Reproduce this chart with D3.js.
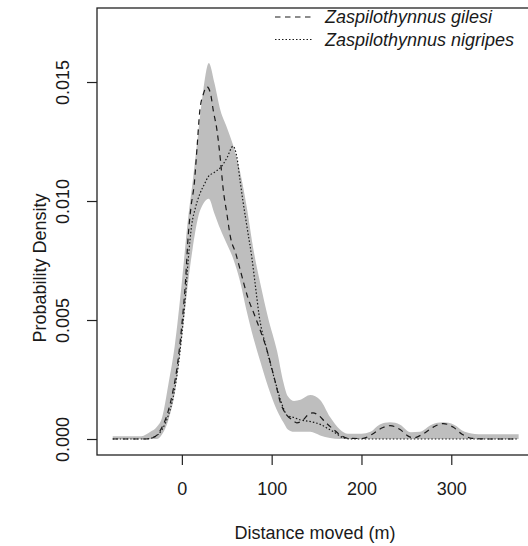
<!DOCTYPE html>
<html>
<head>
<meta charset="utf-8">
<script src="https://cdn.jsdelivr.net/npm/d3@7"></script>
<style>
  body { margin: 0; background: #fff; }
  text { font-family: "Liberation Sans", Arial, sans-serif; fill: #1a1a1a; }
</style>
</head>
<body>
<script>
// density curves (x in metres, y = density)

const gilesiX = [-77, -40, -30, -22, -15, -10, -5, 0, 4, 7, 10, 14, 17, 20, 24, 28, 32, 35, 39, 43, 46, 50, 54, 60, 65, 73, 82, 95, 104, 110, 117, 123, 128, 135, 140, 146, 152, 160, 169, 177, 185, 200, 212, 222, 232, 243, 252, 258, 268, 280, 291, 302, 312, 323, 340, 374];
const gilesiY = [0, 0, 0.0001, 0.0005, 0.0012, 0.002, 0.0031, 0.0048, 0.0066, 0.0085, 0.0097, 0.0108, 0.0123, 0.0138, 0.0145, 0.0148, 0.0145, 0.0138, 0.0130, 0.0117, 0.0105, 0.0095, 0.0085, 0.0078, 0.0071, 0.0060, 0.0051, 0.0037, 0.0024, 0.0015, 0.0010, 0.0008, 0.00068, 0.0008, 0.0010, 0.0011, 0.0010, 0.0007, 0.0004, 0.00015, 0.00003, 0.00002, 0.0002, 0.00045, 0.00056, 0.0004, 0.00012, 0.00005, 0.0002, 0.0005, 0.00065, 0.0005, 0.0002, 0.00003, 0, 0];

const nigripesX = [-77, -40, -30, -22, -15, -10, -5, 0, 4, 7, 11, 15, 20, 25, 29, 36, 43, 50, 57, 61, 65, 68, 73, 78, 82, 86, 95, 104, 112, 117, 125, 132, 140, 147, 155, 162, 169, 180, 190, 374];
const nigripesY = [0, 0, 0.0001, 0.0004, 0.001, 0.0017, 0.0028, 0.0044, 0.006, 0.0075, 0.009, 0.0097, 0.0103, 0.0107, 0.0110, 0.0112, 0.0114, 0.0118, 0.0123, 0.0119, 0.0108, 0.0100, 0.0088, 0.0076, 0.0064, 0.0052, 0.0037, 0.0024, 0.0014, 0.0010, 0.0009, 0.0008, 0.00075, 0.0007, 0.0006, 0.00045, 0.0003, 0.00005, 0, 0];

const bandX = [-77, -45, -35, -28, -22, -15, -8, 0, 7, 12, 18, 24, 30, 36, 43, 50, 57, 65, 72, 80, 87, 96, 106, 113, 118, 125, 132, 143, 154, 165, 176, 185, 200, 210, 220, 232, 243, 255, 265, 278, 291, 303, 315, 330, 375];
const bandUpper = [0.00012, 0.00012, 0.0003, 0.0005, 0.0009, 0.0023, 0.0039, 0.0066, 0.0093, 0.0108, 0.0128, 0.0147, 0.0158, 0.0150, 0.0138, 0.0131, 0.01235, 0.0112, 0.0098, 0.0079, 0.0066, 0.0051, 0.0037, 0.0024, 0.0018, 0.0016, 0.00165, 0.00185, 0.00164, 0.00092, 0.0004, 0.00022, 0.00022, 0.0003, 0.0006, 0.0007, 0.0006, 0.00028, 0.0003, 0.0006, 0.0007, 0.0006, 0.0003, 0.0002, 0.0002];
const bandLower = [0, 0, 0, 0, 0.0002, 0.0008, 0.0019, 0.0042, 0.0066, 0.0080, 0.0093, 0.0099, 0.0101, 0.0095, 0.0088, 0.0082, 0.0076, 0.0066, 0.0054, 0.0042, 0.0033, 0.0022, 0.0012, 0.0007, 0.0004, 0.0003, 0.0003, 0.0003, 0.00015, 0.00004, 0, 0, 0, 0, 0, 0, 0, 0, 0, 0, 0, 0, 0, 0, 0];

const xTicks = [0, 100, 200, 300];
const yTicks = [0, 0.005, 0.010, 0.015];
const legendNames = ["Zaspilothynnus gilesi", "Zaspilothynnus nigripes"];

const W = 528, H = 546;
const plotL = 97, plotR = 533, plotT = 8, plotB = 455;

const svg = d3.select("body").append("svg")
    .attr("width", W).attr("height", H);

const x = d3.scaleLinear().domain([-94.5, 391]).range([plotL, plotR]);
const y = d3.scaleLinear().domain([-0.000672, 0.01811]).range([plotB, plotT]);

svg.append("clipPath").attr("id", "plotclip")
  .append("rect").attr("x", plotL).attr("y", plotT)
  .attr("width", plotR - plotL).attr("height", plotB - plotT);

const plot = svg.append("g").attr("clip-path", "url(#plotclip)");

// grey envelope
const band = bandX.map((v, i) => ({x: v, lo: bandLower[i], hi: bandUpper[i]}));
plot.append("path")
    .datum(band)
    .attr("fill", "#bebebe")
    .attr("d", d3.area()
        .x(d => x(d.x))
        .y0(d => y(d.lo))
        .y1(d => y(d.hi))
        .curve(d3.curveMonotoneX));

const line = d3.line().x(d => x(d[0])).y(d => y(d[1])).curve(d3.curveMonotoneX);

plot.append("path")
    .datum(nigripesX.map((v, i) => [v, nigripesY[i]]))
    .attr("fill", "none").attr("stroke", "#1a1a1a")
    .attr("stroke-width", 1.2).attr("stroke-dasharray", "1.5,2")
    .attr("d", line);

plot.append("path")
    .datum(gilesiX.map((v, i) => [v, gilesiY[i]]))
    .attr("fill", "none").attr("stroke", "#1a1a1a")
    .attr("stroke-width", 1.2).attr("stroke-dasharray", "5.5,4.5")
    .attr("d", line);

// box
svg.append("rect")
    .attr("x", plotL).attr("y", plotT)
    .attr("width", plotR - plotL).attr("height", plotB - plotT)
    .attr("fill", "none").attr("stroke", "#222").attr("stroke-width", 1.3);

// axes
const xAxis = svg.append("g")
    .attr("transform", `translate(0,${plotB})`)
    .call(d3.axisBottom(x).tickValues(xTicks).tickSize(10).tickSizeOuter(0).tickPadding(17));
xAxis.select(".domain").remove();
xAxis.selectAll("line").attr("stroke", "#222").attr("stroke-width", 1.2);
xAxis.selectAll("text").style("font-size", "18px").attr("fill", "#1a1a1a");

const yAxis = svg.append("g")
    .call(d3.axisLeft(y).tickValues(yTicks).tickSize(10).tickSizeOuter(0).tickFormat(d3.format(".3f")))
    .attr("transform", `translate(${plotL},0)`);
yAxis.select(".domain").remove();
yAxis.selectAll("line").attr("stroke", "#222").attr("stroke-width", 1.2);
yAxis.selectAll(".tick text")
    .style("font-size", "18px").attr("fill", "#1a1a1a")
    .attr("x", 0).attr("y", 0).attr("dy", null)
    .attr("text-anchor", "middle")
    .attr("dominant-baseline", "central")
    .attr("transform", "translate(-34,0) rotate(-90)");

// axis titles
svg.append("text")
    .attr("x", (plotL + plotR) / 2).attr("y", 539)
    .attr("text-anchor", "middle")
    .style("font-size", "18px")
    .text("Distance moved (m)");

svg.append("text")
    .attr("transform", "translate(40,268) rotate(-90)")
    .attr("text-anchor", "middle")
    .attr("dominant-baseline", "central")
    .style("font-size", "18px")
    .text("Probability Density");

// legend
const legDash = ["5.5,4.5", "1.5,2"];
const leg = svg.append("g");
legendNames.forEach((name, i) => {
    const ly = 17 + i * 22.5;
    leg.append("line")
        .attr("x1", 275).attr("x2", 312).attr("y1", ly).attr("y2", ly)
        .attr("stroke", "#1a1a1a").attr("stroke-width", 1.2)
        .attr("stroke-dasharray", legDash[i]);
    leg.append("text")
        .attr("x", 325).attr("y", ly)
        .attr("dominant-baseline", "central")
        .style("font-size", "18px").style("font-style", "italic")
        .text(name);
});
</script>
</body>
</html>
